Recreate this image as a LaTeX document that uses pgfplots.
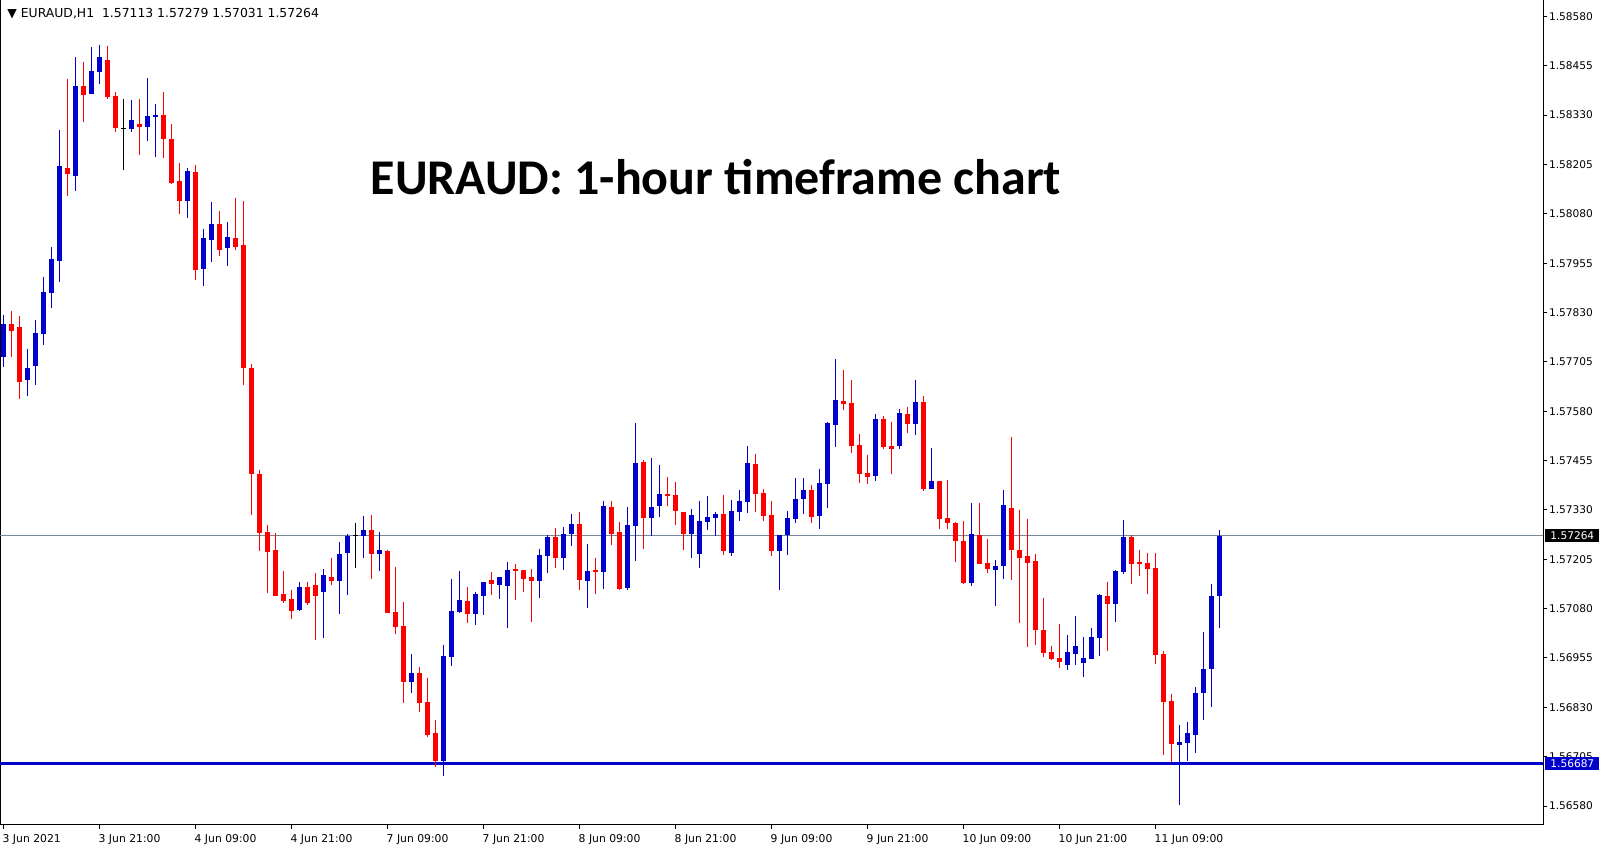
\documentclass[border=0pt]{standalone}
\usepackage{fontspec}
\setmainfont{DejaVu Sans}
\newfontfamily\titlefont{Carlito}
\usepackage{pgfplots}
\pgfplotsset{compat=1.18}
\usepackage{pgfplotstable}

\definecolor{upc}{HTML}{0000CC}
\definecolor{dnc}{HTML}{FF0000}
\definecolor{lvl}{HTML}{778899}

% EURAUD H1, bar 0 = 3 Jun 09:00 ... bar 152 = 11 Jun 17:00
\pgfplotstableread{
i O H L C
0 1.57718 1.57824 1.57692 1.57801
3 1.57660 1.57738 1.57619 1.57689
4 1.57695 1.57811 1.57647 1.57778
5 1.57776 1.57920 1.57748 1.57882
6 1.57880 1.57996 1.57842 1.57966
7 1.57961 1.58292 1.57908 1.58201
9 1.58177 1.58477 1.58139 1.58404
11 1.58384 1.58503 1.58384 1.58442
12 1.58440 1.58508 1.58410 1.58477
16 1.58296 1.58368 1.58288 1.58318
18 1.58301 1.58424 1.58265 1.58328
19 1.58326 1.58358 1.58225 1.58330
23 1.58113 1.58196 1.58070 1.58188
25 1.57941 1.58042 1.57898 1.58019
26 1.58014 1.58110 1.57959 1.58054
28 1.57994 1.58059 1.57949 1.58021
37 1.57077 1.57147 1.57075 1.57135
40 1.57123 1.57180 1.57006 1.57165
42 1.57151 1.57249 1.57067 1.57218
43 1.57222 1.57269 1.57115 1.57264
45 1.57265 1.57315 1.57209 1.57279
47 1.57219 1.57274 1.57174 1.57228
51 1.56895 1.56965 1.56867 1.56917
55 1.56695 1.56988 1.56656 1.56960
56 1.56958 1.57155 1.56935 1.57074
57 1.57071 1.57175 1.57069 1.57102
59 1.57067 1.57122 1.57039 1.57117
60 1.57113 1.57147 1.57065 1.57147
62 1.57141 1.57160 1.57105 1.57160
63 1.57138 1.57198 1.57031 1.57178
67 1.57150 1.57231 1.57107 1.57216
68 1.57214 1.57266 1.57170 1.57261
70 1.57209 1.57287 1.57178 1.57269
71 1.57270 1.57320 1.57239 1.57294
73 1.57151 1.57244 1.57082 1.57175
75 1.57173 1.57353 1.57130 1.57340
78 1.57133 1.57337 1.57128 1.57292
79 1.57290 1.57550 1.57201 1.57449
81 1.57310 1.57461 1.57265 1.57337
82 1.57341 1.57444 1.57313 1.57370
86 1.57270 1.57332 1.57209 1.57317
87 1.57219 1.57353 1.57184 1.57302
88 1.57300 1.57365 1.57280 1.57312
89 1.57310 1.57325 1.57265 1.57320
91 1.57222 1.57355 1.57214 1.57327
92 1.57325 1.57380 1.57303 1.57353
93 1.57351 1.57492 1.57323 1.57449
97 1.57227 1.57266 1.57128 1.57266
98 1.57267 1.57327 1.57217 1.57310
99 1.57308 1.57411 1.57298 1.57358
100 1.57358 1.57411 1.57320 1.57380
102 1.57315 1.57434 1.57282 1.57398
103 1.57396 1.57553 1.57336 1.57550
104 1.57546 1.57712 1.57490 1.57608
109 1.57417 1.57573 1.57404 1.57560
112 1.57493 1.57586 1.57485 1.57575
114 1.57548 1.57659 1.57520 1.57603
116 1.57384 1.57487 1.57384 1.57403
121 1.57146 1.57348 1.57136 1.57269
124 1.57179 1.57203 1.57087 1.57188
125 1.57189 1.57380 1.57156 1.57342
133 1.56937 1.57013 1.56925 1.56970
134 1.56965 1.57061 1.56937 1.56985
135 1.56942 1.57008 1.56907 1.56955
136 1.56952 1.57031 1.56952 1.57008
137 1.57006 1.57117 1.56960 1.57115
139 1.57092 1.57178 1.57046 1.57175
140 1.57173 1.57304 1.57168 1.57261
147 1.56735 1.56785 1.56583 1.56742
148 1.56740 1.56793 1.56695 1.56765
149 1.56761 1.56881 1.56715 1.56866
150 1.56865 1.57021 1.56798 1.56927
151 1.56927 1.57142 1.56831 1.57113
152 1.57113 1.57279 1.57031 1.57264
}\bull

\pgfplotstableread{
i O H L C
1 1.57801 1.57834 1.57718 1.57784
2 1.57793 1.57821 1.57611 1.57655
8 1.58196 1.58422 1.58126 1.58182
10 1.58404 1.58465 1.58313 1.58382
13 1.58470 1.58505 1.58372 1.58377
14 1.58378 1.58389 1.58286 1.58298
17 1.58308 1.58371 1.58230 1.58301
20 1.58330 1.58389 1.58222 1.58270
21 1.58270 1.58308 1.58156 1.58159
22 1.58163 1.58209 1.58080 1.58113
24 1.58186 1.58204 1.57913 1.57938
27 1.58054 1.58087 1.57974 1.57989
29 1.58019 1.58120 1.57989 1.57997
30 1.58001 1.58112 1.57647 1.57690
31 1.57690 1.57700 1.57318 1.57421
32 1.57421 1.57431 1.57227 1.57272
33 1.57275 1.57292 1.57120 1.57224
34 1.57228 1.57271 1.57113 1.57113
35 1.57117 1.57176 1.57095 1.57100
36 1.57104 1.57127 1.57054 1.57075
38 1.57135 1.57147 1.57090 1.57095
39 1.57140 1.57170 1.57001 1.57113
41 1.57160 1.57208 1.57141 1.57151
46 1.57279 1.57317 1.57156 1.57219
48 1.57226 1.57228 1.57070 1.57070
49 1.57071 1.57185 1.57016 1.57034
50 1.57036 1.57097 1.56842 1.56895
52 1.56917 1.56932 1.56819 1.56842
53 1.56844 1.56904 1.56756 1.56760
54 1.56765 1.56798 1.56680 1.56695
58 1.57099 1.57135 1.57044 1.57067
61 1.57152 1.57173 1.57115 1.57143
64 1.57180 1.57193 1.57102 1.57175
65 1.57178 1.57178 1.57122 1.57155
66 1.57160 1.57180 1.57046 1.57150
69 1.57261 1.57284 1.57183 1.57209
72 1.57294 1.57325 1.57128 1.57153
74 1.57178 1.57208 1.57118 1.57173
76 1.57337 1.57353 1.57242 1.57270
77 1.57274 1.57299 1.57128 1.57130
80 1.57451 1.57456 1.57232 1.57310
83 1.57370 1.57413 1.57341 1.57366
84 1.57368 1.57401 1.57293 1.57326
85 1.57325 1.57325 1.57229 1.57270
90 1.57320 1.57368 1.57217 1.57227
94 1.57446 1.57472 1.57325 1.57371
95 1.57373 1.57383 1.57303 1.57315
96 1.57317 1.57353 1.57212 1.57227
101 1.57380 1.57393 1.57298 1.57313
105 1.57606 1.57684 1.57584 1.57599
106 1.57601 1.57659 1.57475 1.57493
107 1.57494 1.57522 1.57399 1.57422
108 1.57424 1.57469 1.57396 1.57414
110 1.57560 1.57568 1.57483 1.57490
111 1.57492 1.57553 1.57422 1.57485
113 1.57573 1.57591 1.57526 1.57548
115 1.57603 1.57619 1.57379 1.57384
117 1.57403 1.57403 1.57282 1.57308
118 1.57310 1.57406 1.57282 1.57298
119 1.57297 1.57299 1.57199 1.57250
120 1.57251 1.57302 1.57143 1.57146
122 1.57266 1.57348 1.57194 1.57194
123 1.57196 1.57256 1.57171 1.57181
126 1.57335 1.57515 1.57153 1.57229
127 1.57228 1.57330 1.57044 1.57209
128 1.57213 1.57307 1.56984 1.57196
129 1.57201 1.57218 1.56989 1.57027
130 1.57026 1.57107 1.56958 1.56968
131 1.56970 1.56985 1.56951 1.56953
132 1.56955 1.57041 1.56930 1.56945
138 1.57112 1.57147 1.56973 1.57092
141 1.57261 1.57266 1.57142 1.57194
142 1.57198 1.57228 1.57163 1.57194
143 1.57196 1.57221 1.57117 1.57180
144 1.57183 1.57221 1.56940 1.56963
145 1.56965 1.56973 1.56709 1.56844
146 1.56846 1.56864 1.56692 1.56738
}\bear

\pgfplotstableread{
i O H L C
15 1.58297 1.58371 1.58192 1.58297
44 1.57266 1.57297 1.57184 1.57266
}\doji

\begin{document}
\begin{tikzpicture}
\useasboundingbox (0,0) rectangle (803.5pt,425pt);
\begin{axis}[
    at={(0pt,12.5pt)}, anchor=south west,
    width=771.5pt, height=412.5pt, scale only axis,
    xmin=-0.4125, xmax=192.46,
    ymin=1.565319, ymax=1.586216,
    axis line style={line width=0.5pt, black},
    tick align=outside, major tick length=2pt,
    tick style={black, line width=0.5pt},
    xtick pos=bottom, ytick pos=right, yticklabel pos=right,
    xtick={0,12,24,36,48,60,72,84,96,108,120,132,144},
    xticklabels={3 Jun 2021, 3 Jun 21:00, 4 Jun 09:00, 4 Jun 21:00, 7 Jun 09:00, 7 Jun 21:00, 8 Jun 09:00, 8 Jun 21:00, 9 Jun 09:00, 9 Jun 21:00, 10 Jun 09:00, 10 Jun 21:00, 11 Jun 09:00},
    ytick={1.56580,1.56705,1.56830,1.56955,1.57080,1.57205,1.57330,1.57455,1.57580,1.57705,1.57830,1.57955,1.58080,1.58205,1.58330,1.58455,1.58580},
    yticklabels={1.56580,1.56705,1.56830,1.56955,1.57080,1.57205,1.57330,1.57455,1.57580,1.57705,1.57830,1.57955,1.58080,1.58205,1.58330,1.58455,1.58580},
    xticklabel style={font=\fontsize{5.4}{6}\selectfont, anchor=north west, inner sep=0pt, xshift=-0.5pt, yshift=-2.7pt},
    yticklabel style={font=\fontsize{5.3}{6}\selectfont, anchor=west, inner sep=0pt, xshift=0.8pt},
    candle/.style={draw=none, mark=none, forget plot},
]
% price levels
\addplot[lvl, line width=0.5pt] coordinates {(-1,1.57264) (200,1.57264)};
\addplot[upc, line width=1.5pt] coordinates {(-1,1.56687) (200,1.56687)};

% wicks
\addplot[candle, error bars/.cd, y dir=minus, y explicit, error mark=none,
    error bar style={draw=upc, line width=0.5pt}]
    table[x=i, y=H, y error minus expr=\thisrow{H}-\thisrow{L}] {\bull};
\addplot[candle, error bars/.cd, y dir=minus, y explicit, error mark=none,
    error bar style={draw=dnc, line width=0.5pt}]
    table[x=i, y=H, y error minus expr=\thisrow{H}-\thisrow{L}] {\bear};
\addplot[candle, error bars/.cd, y dir=minus, y explicit, error mark=none,
    error bar style={draw=black, line width=0.5pt}]
    table[x=i, y=H, y error minus expr=\thisrow{H}-\thisrow{L}] {\doji};

% bodies
\addplot[candle, error bars/.cd, y dir=minus, y explicit, error mark=none,
    error bar style={draw=upc, line width=2.5pt}]
    table[x=i, y=C, y error minus expr=\thisrow{C}-\thisrow{O}] {\bull};
\addplot[candle, error bars/.cd, y dir=plus, y explicit, error mark=none,
    error bar style={draw=dnc, line width=2.5pt}]
    table[x=i, y=C, y error plus expr=\thisrow{O}-\thisrow{C}] {\bear};
\addplot[only marks, mark=-, mark size=1.3pt, mark options={draw=black, line width=0.5pt}]
    table[x=i, y=O] {\doji};

\coordinate (p1) at (axis cs:192.46,1.57264);
\coordinate (p2) at (axis cs:192.46,1.56687);
\end{axis}

\node[fill=black, text=white, anchor=west, inner xsep=2.5pt, inner ysep=0pt, minimum height=6.5pt,
    font=\fontsize{5.3}{6}\selectfont] at ([xshift=1pt]p1) {1.57264};
\node[fill=upc, text=white, anchor=west, inner xsep=2.5pt, inner ysep=0pt, minimum height=6.5pt,
    font=\fontsize{5.3}{6}\selectfont] at ([xshift=1pt]p2) {1.56687};

\node[anchor=base, inner sep=0pt, font=\titlefont\bfseries\fontsize{25}{30}\selectfont]
    at (358pt,327.5pt) {EURAUD: 1-hour timeframe chart};

\node[anchor=base west, inner sep=0pt, font=\fontsize{6.2}{7}\selectfont]
    at (3.5pt,416pt) {▼ EURAUD,H1\ \ 1.57113 1.57279 1.57031 1.57264};
\end{tikzpicture}
\end{document}
